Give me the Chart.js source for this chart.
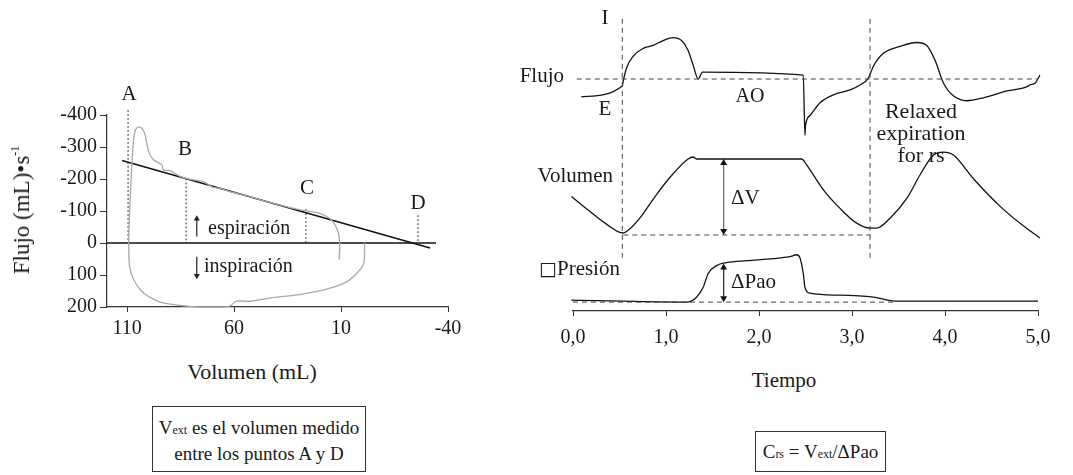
<!DOCTYPE html>
<html>
<head>
<meta charset="utf-8">
<script src="https://cdn.jsdelivr.net/npm/chart.js@4/dist/chart.umd.min.js"></script>
<style>
  body { margin: 0; width: 1073px; height: 475px; background: #fff; position: relative; overflow: hidden;
         font-family: "Liberation Serif", "DejaVu Serif", serif; color: #1a1a1a; }
  canvas { position: absolute; }
  .t { position: absolute; font-size: 20px; line-height: 1; white-space: nowrap; }
  .c { transform: translate(-50%, -50%); }
  .l { transform: translate(0, -50%); }
  .r { transform: translate(-100%, -50%); }
  .box { position: absolute; border: 1.3px solid #333; text-align: center; font-size: 19px; line-height: 23px;
         box-sizing: border-box; white-space: nowrap; }
  .s { font-size: 12px; }
</style>
</head>
<body>
<canvas id="lazo" width="470" height="270" style="left:0;top:80px"></canvas>
<canvas id="trazos" width="543" height="350" style="left:530px;top:0"></canvas>

<!-- textos del lazo -->
<div class="t c" style="left:129px;top:93px;font-size:21px">A</div>
<div class="t c" style="left:185px;top:148px;font-size:21px">B</div>
<div class="t c" style="left:307px;top:187px;font-size:21px">C</div>
<div class="t c" style="left:418px;top:202px;font-size:21px">D</div>
<div class="t l" style="left:208px;top:227px">espiración</div>
<div class="t l" style="left:204px;top:265px">inspiración</div>
<div class="t c" style="left:252px;top:372px;font-size:22px">Volumen (mL)</div>
<div class="t" style="left:21px;top:210px;font-size:23px;transform:translate(-50%,-50%) rotate(-90deg)">Flujo (mL)•s<span class="s" style="vertical-align:10px">-1</span></div>
<div class="box" style="left:152px;top:406px;width:214px;height:66px;padding-top:9px">V<span class="s">ext</span> es el volumen medido<br>entre los puntos A y D</div>

<!-- textos de los trazos -->
<div class="t c" style="left:605px;top:17px;font-size:21px">I</div>
<div class="t r" style="left:564px;top:75px;font-size:21px">Flujo</div>
<div class="t c" style="left:605px;top:108px;font-size:21px">E</div>
<div class="t c" style="left:750px;top:95px">AO</div>
<div class="t c" style="left:921px;top:133px;text-align:center;line-height:22px;font-size:22px">Relaxed<br>expiration<br>for rs</div>
<div class="t r" style="left:613px;top:175px;font-size:21px">Volumen</div>
<div class="t l" style="left:539px;top:268px;font-size:21px"><span style="font-family:'DejaVu Sans';font-size:19px">□</span>Presión</div>
<div class="t l" style="left:731px;top:197px;font-size:21px">ΔV</div>
<div class="t l" style="left:731px;top:281px;font-size:21px">ΔPao</div>
<div class="t c" style="left:784px;top:380px;font-size:21px">Tiempo</div>
<div class="box" style="left:755px;top:431px;width:131px;height:41px;padding-top:8px">C<span class="s">rs</span> = V<span class="s">ext</span>/ΔPao</div>

<script>
Chart.defaults.font.family = '"Liberation Serif", serif';
Chart.defaults.color = '#1a1a1a';

// ---- lazo flujo-volumen ----
const ticksVolumen = [110, 60, 10, -40];

const lazo = [
  [10.9, 52], [10.6, 10], [11.2, -31], [13.3, -62], [15.6, -78], [20.2, -93], [24.9, -99],
  [29.5, -104], [37.2, -116], [45, -130], [52.7, -145], [60.5, -158], [66.7, -171], [69.8, -174],
  [74.4, -192], [80.6, -199], [85.2, -208], [89.9, -226], [93, -228], [93.7, -244], [97.6, -260],
  [99.9, -286], [101.5, -337], [103, -358], [104.6, -363], [106.1, -353], [107.2, -301],
  [108.1, -197], [108.8, -93], [109.2, 0], [108.8, 73], [106.9, 114], [102.3, 156], [94.5, 185],
  [82.1, 197], [69.8, 200], [62, 197], [58.9, 182], [52.7, 182], [41.9, 171], [29.5, 161],
  [17.1, 145], [7.8, 123], [2.4, 93], [-0.7, 62], [-1, 0]
];
const recta = [[112.3, -258], [-31.6, 15.5]];
const ejeCero = [[119.35, 0], [-34.4, 0]];
const puntoA = [[109.5, -416], [109.5, 0]];
const puntoB = [[82.4, -202], [82.4, 0]];
const puntoC = [[26.4, -106], [26.4, 0]];
const puntoD = [[-26, -87], [-26, 0]];
const flechaEsp = [[77.4, -20], [77.4, -76]];
const flechaIns = [[77.4, 43], [77.4, 102]];

const pts = (a) => a.map(([x, y]) => ({ x, y }));
const punteada = (d) => ({ data: pts(d), borderColor: '#333', borderWidth: 1, borderDash: [2, 2], pointRadius: 0, clip: false });

new Chart(document.getElementById('lazo'), {
  type: 'line',
  data: {
    datasets: [
      { data: pts(lazo), borderColor: '#a8a8a8', borderWidth: 1.3, pointRadius: 0, tension: 0.25, clip: false },
      { data: pts(ejeCero), borderColor: '#111', borderWidth: 1.4, pointRadius: 0, clip: false },
      { data: pts(recta), borderColor: '#111', borderWidth: 1.5, pointRadius: 0, clip: false },
      punteada(puntoA), punteada(puntoB), punteada(puntoC), punteada(puntoD),
      { data: pts(flechaEsp), borderColor: '#222', borderWidth: 1.2, pointStyle: 'triangle',
        pointRadius: [0, 3.5], pointBackgroundColor: '#222', pointBorderWidth: 0, clip: false },
      { data: pts(flechaIns), borderColor: '#222', borderWidth: 1.2, pointStyle: 'triangle', pointRotation: 180,
        pointRadius: [0, 3.5], pointBackgroundColor: '#222', pointBorderWidth: 0, clip: false },
    ],
  },
  options: {
    responsive: false,
    animation: false,
    devicePixelRatio: 1,
    layout: { padding: { top: 35, right: 22, left: 0, bottom: 0 } },
    plugins: { legend: { display: false }, tooltip: { enabled: false } },
    scales: {
      x: {
        type: 'linear', reverse: true, min: -40, max: 119.35,
        afterBuildTicks: (s) => { s.ticks = ticksVolumen.map((v) => ({ value: v })); },
        afterFit: (s) => { s.height = 43; },
        grid: { drawOnChartArea: false, tickLength: 5, color: '#333' },
        border: { color: '#333', width: 1.2 },
        ticks: { font: { size: 20 }, padding: 5, color: '#1a1a1a' },
      },
      y: {
        reverse: true, min: -400, max: 200,
        afterFit: (s) => { s.width = 107; },
        grid: { drawOnChartArea: false, tickLength: 7, color: '#333' },
        border: { color: '#333', width: 1.2 },
        ticks: { stepSize: 100, font: { size: 20 }, padding: 3, color: '#1a1a1a' },
      },
    },
  },
});

// ---- trazos en el tiempo (unidades arbitrarias) ----
const flujo = [
  [0.09, 217], [0.53, 228], [0.54, 233], [0.575, 246], [0.646, 258], [0.754, 266], [0.861, 269],
  [0.969, 274], [1.076, 277], [1.167, 274], [1.238, 264], [1.292, 249], [1.346, 235], [1.393, 242],
  [1.40, 242], [2.476, 239], [2.494, 178], [2.50, 188], [2.548, 198], [2.656, 211], [2.8, 219],
  [2.98, 224], [3.086, 229], [3.176, 236], [3.23, 248], [3.337, 261], [3.517, 268], [3.697, 272],
  [3.804, 269], [3.893, 254], [3.983, 231], [4.09, 218], [4.235, 213], [4.413, 216], [4.665, 223],
  [4.898, 228], [4.91, 229], [4.97, 231], [5.02, 239]
];
const volumen = [
  [-0.017, 116], [0.18, 101], [0.36, 88], [0.538, 79], [0.61, 83], [0.718, 94], [0.898, 118],
  [1.076, 139], [1.238, 154], [1.292, 156], [1.328, 154], [2.458, 154], [2.512, 148], [2.69, 123],
  [2.871, 104], [3.05, 89], [3.194, 84], [3.266, 84], [3.409, 94], [3.589, 114], [3.732, 138],
  [3.875, 158], [3.983, 161], [4.09, 158], [4.306, 134], [4.593, 106], [4.845, 86], [5.02, 74]
];
const presion = [
  [-0.017, 11], [1.22, 9], [1.328, 14], [1.4, 24], [1.453, 38], [1.544, 46], [1.65, 49], [1.866, 51],
  [2.153, 53], [2.33, 55], [2.405, 57], [2.44, 54], [2.476, 38], [2.494, 24], [2.548, 18], [2.871, 16],
  [3.23, 14], [3.48, 10], [5.0, 10]
];
const baseFlujo = [[0.04, 235], [5.0, 235]];
const baseVolumen = [[0.54, 77], [3.2, 77]];
const basePresion = [[0, 9], [3.45, 9]];
const marcaInicio = [[0.53, 296], [0.53, 54]];
const marcaFin = [[3.194, 296], [3.194, 54]];
const flechaV = [[1.62, 150], [1.62, 81]];
const flechaP = [[1.62, 44], [1.62, 13]];

const trazo = (d) => ({ data: pts(d), borderColor: '#111', borderWidth: 1.3, pointRadius: 0,
  cubicInterpolationMode: 'monotone', clip: false });
const discontinua = (d) => ({ data: pts(d), borderColor: '#444', borderWidth: 1, borderDash: [5, 4],
  pointRadius: 0, clip: false });
const dobleFlecha = (d, color) => ({ data: pts(d), borderColor: color, borderWidth: 1.2, pointStyle: 'triangle',
  pointRotation: [0, 180], pointRadius: 4, pointBackgroundColor: '#111', pointBorderWidth: 0, clip: false });

new Chart(document.getElementById('trazos'), {
  type: 'line',
  data: {
    datasets: [
      discontinua(baseFlujo), discontinua(baseVolumen), discontinua(basePresion),
      discontinua(marcaInicio), discontinua(marcaFin),
      trazo(flujo), trazo(volumen), trazo(presion),
      dobleFlecha(flechaV, '#666'), dobleFlecha(flechaP, '#222'),
    ],
  },
  options: {
    responsive: false,
    animation: false,
    devicePixelRatio: 1,
    layout: { padding: { top: 0, right: 35, left: 43, bottom: 0 } },
    plugins: { legend: { display: false }, tooltip: { enabled: false } },
    scales: {
      x: {
        type: 'linear', min: 0, max: 5,
        afterFit: (s) => { s.height = 39; },
        grid: { drawOnChartArea: false, tickLength: 5, color: '#333' },
        border: { color: '#333', width: 1.2 },
        ticks: { stepSize: 1, font: { size: 20 }, padding: 10, color: '#1a1a1a',
                 callback: (v) => v.toFixed(1).replace('.', ',') },
      },
      y: { display: false, min: 0, max: 311 },
    },
  },
});
</script>
</body>
</html>
